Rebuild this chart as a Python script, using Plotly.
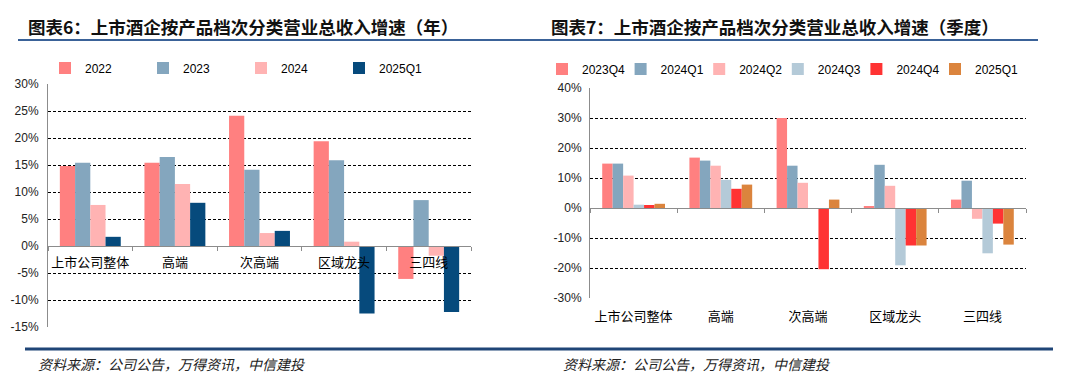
import plotly.graph_objects as go

W, H = 1069, 385

# ---------------- data ----------------
categories = ["上市公司整体", "高端", "次高端", "区域龙头", "三四线"]

year_series = ["2022", "2023", "2024", "2025Q1"]
year_values = {
    "2022":   [14.8, 15.4, 24.1, 19.4, -6.1],
    "2023":   [15.4, 16.5, 14.1, 15.9, 8.5],
    "2024":   [7.6, 11.5, 2.4, 0.8, -1.8],
    "2025Q1": [1.7, 8.0, 2.8, -12.5, -12.2],
}
year_colors = {"2022": "#FF8080", "2023": "#84A6BE", "2024": "#FFB3B3", "2025Q1": "#064A7C"}

quarter_series = ["2023Q4", "2024Q1", "2024Q2", "2024Q3", "2024Q4", "2025Q1"]
quarter_values = {
    "2023Q4": [14.8, 16.8, 30.0, 0.5, 2.8],
    "2024Q1": [14.8, 15.8, 14.1, 14.4, 9.1],
    "2024Q2": [10.8, 14.1, 8.4, 7.4, -3.6],
    "2024Q3": [1.1, 9.4, -0.3, -19.1, -15.1],
    "2024Q4": [1.0, 6.4, -20.4, -12.5, -5.2],
    "2025Q1": [1.4, 7.8, 2.8, -12.5, -12.2],
}
quarter_colors = {"2023Q4": "#FF8080", "2024Q1": "#84A6BE", "2024Q2": "#FFB3B3",
                  "2024Q3": "#B4CAD8", "2024Q4": "#FF3333", "2025Q1": "#DB843D"}

left_ticks = [-15, -10, -5, 0, 5, 10, 15, 20, 25, 30]
right_ticks = [-30, -20, -10, 0, 10, 20, 30, 40]

title_left = "图表6：上市酒企按产品档次分类营业总收入增速（年）"
title_right = "图表7：上市酒企按产品档次分类营业总收入增速（季度）"
source_text = "资料来源：公司公告，万得资讯，中信建投"

# ---------------- helpers ----------------
def px_x(p):
    return p / W

def px_y(p):
    return 1 - p / H

fig = go.Figure()

for s in year_series:
    fig.add_trace(go.Bar(x=categories, y=year_values[s], name=s,
                         marker=dict(color=year_colors[s], line=dict(width=0)),
                         xaxis="x", yaxis="y", legend="legend"))
for i, s in enumerate(quarter_series):
    fig.add_trace(go.Bar(x=categories, y=quarter_values[s], name=s,
                         marker=dict(color=quarter_colors[s], line=dict(width=0)),
                         xaxis="x2", yaxis="y2", legend=f"legend{i + 2}"))

# domains
ly_dom = [px_y(327), px_y(84)]
ry_dom = [px_y(298), px_y(88)]
lx_dom = [px_x(48), px_x(471)]
rx_dom = [px_x(590), px_x(1026)]
l_rng = [-15, 30]
r_rng = [-30, 40]
l_zero = ly_dom[0] + (ly_dom[1] - ly_dom[0]) * (0 - l_rng[0]) / (l_rng[1] - l_rng[0])
r_zero = ry_dom[0] + (ry_dom[1] - ry_dom[0]) * (0 - r_rng[0]) / (r_rng[1] - r_rng[0])

tickfont = dict(family="Liberation Sans, Arial, sans-serif", size=12, color="#222222")
catfont = dict(family="Noto Sans CJK SC, sans-serif", size=13, color="#000000")
legfont = dict(family="Liberation Sans, Arial, sans-serif", size=12, color="#000")
axis_gray = "#8C8C8C"

layout_legends = {
    "legend": dict(orientation="h", x=px_x(45), y=px_y(68), yanchor="middle", xanchor="left",
                   entrywidth=53, entrywidthmode="pixels", font=legfont,
                   bgcolor="rgba(0,0,0,0)", itemclick=False, traceorder="normal"),
}
for i in range(len(quarter_series)):
    layout_legends[f"legend{i + 2}"] = dict(
        orientation="h", x=px_x(542 + i * 78.6), y=px_y(69), yanchor="middle",
        xanchor="left", font=legfont, bgcolor="rgba(0,0,0,0)", itemclick=False)

fig.update_layout(
    template="none",
    width=W, height=H,
    margin=dict(l=0, r=0, t=0, b=0, autoexpand=False),
    paper_bgcolor="white", plot_bgcolor="white",
    barmode="group", bargap=0.28, bargroupgap=0,
    showlegend=True,
    xaxis=dict(domain=lx_dom, anchor="free", position=l_zero, type="category",
               showline=True, linecolor=axis_gray, linewidth=1, automargin=False,
               ticks="outside", tickson="boundaries", ticklen=4, tickcolor=axis_gray,
               ticklabelstandoff=4, tickangle=0, showgrid=False, tickfont=catfont),
    yaxis=dict(domain=ly_dom, range=l_rng, tickvals=left_ticks, automargin=False,
               ticktext=[f"{v}%" for v in left_ticks],
               showline=True, linecolor=axis_gray, linewidth=1, ticks="",
               ticklabelstandoff=6,
               showgrid=True, gridcolor="#000000", gridwidth=1, griddash="3px,2px",
               zeroline=True, zerolinecolor=axis_gray, zerolinewidth=1,
               tickfont=tickfont, anchor="x"),
    xaxis2=dict(domain=rx_dom, anchor="free", position=r_zero, type="category",
                showline=True, linecolor=axis_gray, linewidth=1, automargin=False,
                ticks="outside", tickson="boundaries", ticklen=4, tickcolor=axis_gray,
                ticklabelstandoff=96, tickangle=0,
                showgrid=False, tickfont=catfont),
    yaxis2=dict(domain=ry_dom, range=r_rng, tickvals=right_ticks, automargin=False,
                ticktext=[f"{v}%" for v in right_ticks],
                showline=True, linecolor=axis_gray, linewidth=1, ticks="",
                ticklabelstandoff=5,
                showgrid=True, gridcolor="#000000", gridwidth=1, griddash="3px,2px",
                zeroline=True, zerolinecolor=axis_gray, zerolinewidth=1,
                tickfont=tickfont, anchor="x2"),
    **layout_legends,
)

# titles
fig.add_annotation(text=title_left, x=px_x(26), y=px_y(26), xref="paper", yref="paper",
                   xanchor="left", yanchor="middle", showarrow=False,
                   font=dict(family="Noto Sans CJK SC, sans-serif", size=17.5, color="#111111",
                             weight="bold"))
fig.add_annotation(text=title_right, x=px_x(549), y=px_y(26), xref="paper", yref="paper",
                   xanchor="left", yanchor="middle", showarrow=False,
                   font=dict(family="Noto Sans CJK SC, sans-serif", size=17.5, color="#111111",
                             weight="bold"))
# source lines
for xs in (36, 561):
    fig.add_annotation(text=f"<i>{source_text}</i>", x=px_x(xs), y=px_y(364), xref="paper",
                       yref="paper", xanchor="left", yanchor="middle", showarrow=False,
                       font=dict(family="Noto Sans CJK SC, sans-serif", size=14, color="#222222"))

# rules
fig.add_shape(type="line", xref="paper", yref="paper", x0=px_x(18), x1=px_x(1038),
              y0=px_y(40), y1=px_y(40), line=dict(color="#3A6298", width=2))
fig.add_shape(type="line", xref="paper", yref="paper", x0=px_x(25), x1=px_x(1053),
              y0=px_y(349), y1=px_y(349), line=dict(color="#1F4577", width=3))

fig.write_html("out.html", config={"displayModeBar": False},
               post_script="document.body.style.margin='0px';")
